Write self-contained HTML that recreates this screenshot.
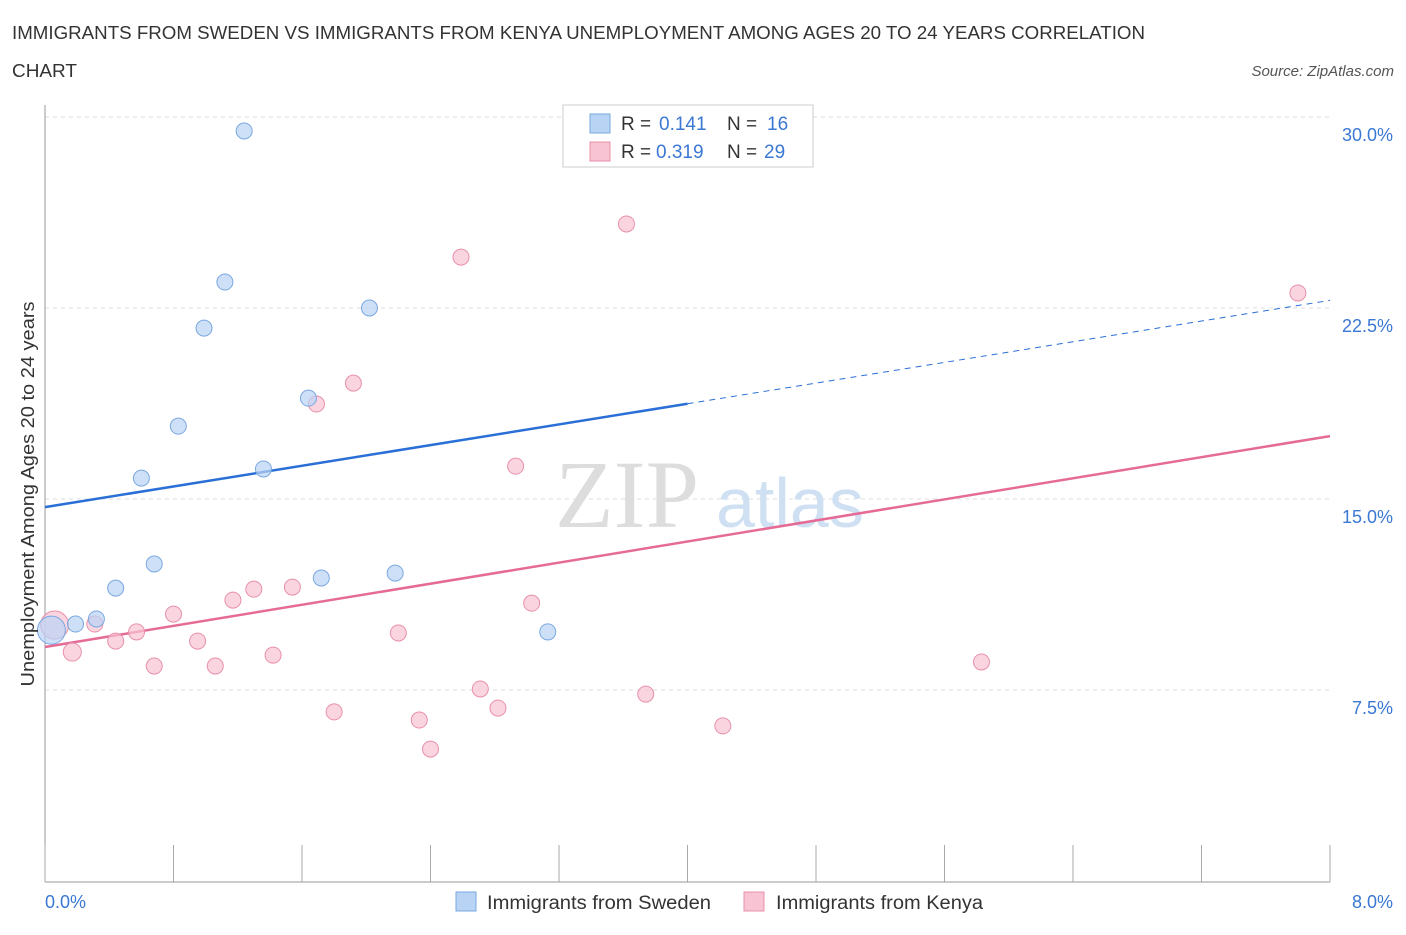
<!DOCTYPE html>
<html><head><meta charset="utf-8"><style>
body{margin:0;background:#fff;font-family:"Liberation Sans",sans-serif;}
</style></head><body>
<svg width="1406" height="930" xmlns="http://www.w3.org/2000/svg" style="font-family:'Liberation Sans',sans-serif">
<text x="12" y="39" font-size="18" fill="#333" textLength="1133" lengthAdjust="spacingAndGlyphs">IMMIGRANTS FROM SWEDEN VS IMMIGRANTS FROM KENYA UNEMPLOYMENT AMONG AGES 20 TO 24 YEARS CORRELATION</text>
<text x="12" y="77" font-size="18" fill="#333" textLength="65" lengthAdjust="spacingAndGlyphs">CHART</text>
<text x="1394" y="76" font-size="15" fill="#555" font-style="italic" text-anchor="end">Source: ZipAtlas.com</text>
<g id="grid"></g>
<text x="555" y="527" font-size="96" fill="#ddd" font-family="Liberation Serif,serif">ZIP</text>
<text x="716" y="527" font-size="70" fill="#cfe0f3">atlas</text>
<line x1="45" y1="105" x2="45" y2="882" stroke="#999"/>
<line x1="45" y1="882" x2="1330" y2="882" stroke="#999"/>
<g id="xticks"></g>
<g id="trend"></g>
<g id="pts"></g>
<text x="45" y="908" font-size="18" fill="#3a78d4">0.0%</text>
<text x="1393" y="908" font-size="18" fill="#3a78d4" text-anchor="end">8.0%</text>
<text transform="translate(34,494) rotate(-90)" font-size="18" fill="#333" text-anchor="middle" textLength="385" lengthAdjust="spacingAndGlyphs">Unemployment Among Ages 20 to 24 years</text>
<g>
<rect x="563" y="105" width="250" height="62" fill="#fff" stroke="#ccc"/>
<rect x="590" y="114" width="20" height="19" fill="#b9d3f5" stroke="#7aa8e0"/>
<text x="621" y="130" font-size="19" fill="#333">R =</text>
<text x="659" y="130" font-size="19" fill="#3a78d4">0.141</text>
<text x="727" y="130" font-size="19" fill="#333">N =</text>
<text x="767" y="130" font-size="19" fill="#3a78d4">16</text>
<rect x="590" y="142" width="20" height="19" fill="#f8c3d3" stroke="#e890aa"/>
<text x="621" y="158" font-size="19" fill="#333">R =</text>
<text x="656" y="158" font-size="19" fill="#3a78d4">0.319</text>
<text x="727" y="158" font-size="19" fill="#333">N =</text>
<text x="764" y="158" font-size="19" fill="#3a78d4">29</text>
</g>
<g><rect x="456" y="892" width="20" height="19" fill="#b9d3f5" stroke="#7aa8e0"/><text x="487" y="909" font-size="19" fill="#333" textLength="224" lengthAdjust="spacingAndGlyphs">Immigrants from Sweden</text></g>
<g><rect x="744" y="892" width="20" height="19" fill="#f8c3d3" stroke="#e890aa"/><text x="776" y="909" font-size="19" fill="#333" textLength="207" lengthAdjust="spacingAndGlyphs">Immigrants from Kenya</text></g>
</svg>
<script>
const yTicks=[7.5,15,22.5,30];
const yTickLabels=["7.5%","15.0%","22.5%","30.0%"];
const swedenX=[1.24,1.12,0.99,2.02,1.64,0.83,1.36,0.60,0.68,1.72,2.18,0.44,0.32,0.19,3.13,0.04];
const swedenY=[29.45,23.52,21.71,22.5,18.96,17.86,16.18,15.82,12.45,11.9,12.09,11.5,10.29,10.09,9.78,9.85];
const swedenR=[8,8,8,8,8,8,8,8,8,8,8,8,8,8,8,14];
const kenyaX=[3.62,2.59,7.80,1.92,1.69,2.93,3.03,1.54,1.30,1.17,0.80,0.31,0.57,0.44,0.95,2.20,1.42,0.68,1.06,5.83,0.17,2.71,3.74,1.80,2.82,2.33,4.22,2.40,0.06];
const kenyaY=[25.8,24.5,23.09,19.55,18.73,16.29,10.91,11.54,11.46,11.03,10.48,10.09,9.78,9.42,9.42,9.74,8.87,8.44,8.44,8.6,8.99,7.54,7.34,6.64,6.79,6.32,6.09,5.18,10.05];
const kenyaR=[8,8,8,8,8,8,8,8,8,8,8,8,8,8,8,8,8,8,8,8,9,8,8,8,8,8,8,8,14];
const swedenTrend=[14.68,22.8];
const kenyaTrend=[9.19,17.47];
const NS="http://www.w3.org/2000/svg";
const sx=v=>45+v*(1285/8);
const sy=v=>881-v*(764/30);
function mk(t,a,p){const e=document.createElementNS(NS,t);for(const k in a)e.setAttribute(k,a[k]);p.appendChild(e);return e;}
const grid=document.getElementById('grid');
yTicks.forEach((v,i)=>{
 const l=mk('line',{x1:45,x2:1330,y1:sy(v),y2:sy(v),stroke:'#ddd','stroke-dasharray':'4,4'},grid);
 
 
 const t=mk('text',{x:1393,y:sy(v)+24,'font-size':18,fill:'#3a78d4','text-anchor':'end'},grid);
 t.textContent=yTickLabels[i];
 
 
});
const xt=document.getElementById('xticks');
for(let i=0;i<=10;i++){const l=mk('line',{x1:sx(i*0.8),x2:sx(i*0.8),y1:845,y2:882,stroke:'#aaa'},xt);
 
 }
const tr=document.getElementById('trend');
const xm=4.0;
const sMid=swedenTrend[0]+(swedenTrend[1]-swedenTrend[0])*xm/8;
let l1=mk('line',{x1:sx(0),y1:sy(swedenTrend[0]),x2:sx(xm),y2:sy(sMid),stroke:'#2a6fd6','stroke-width':2.5},tr);


let l2=mk('line',{x1:sx(xm),y1:sy(sMid),x2:sx(8),y2:sy(swedenTrend[1]),stroke:'#2a6fd6','stroke-width':1,'stroke-dasharray':'6,5'},tr);


let l3=mk('line',{x1:sx(0),y1:sy(kenyaTrend[0]),x2:sx(8),y2:sy(kenyaTrend[1]),stroke:'#e56b96','stroke-width':2.5},tr);


const pts=document.getElementById('pts');
kenyaX.forEach((x,i)=>{const c=mk('circle',{cx:sx(x),cy:sy(kenyaY[i]),r:kenyaR[i],fill:'#f8c3d3','fill-opacity':0.7,stroke:'#e890aa'},pts);
 
 });
swedenX.forEach((x,i)=>{const c=mk('circle',{cx:sx(x),cy:sy(swedenY[i]),r:swedenR[i],fill:'#b9d3f5','fill-opacity':0.7,stroke:'#7aa8e0'},pts);
 
 });
</script>
</body></html>
